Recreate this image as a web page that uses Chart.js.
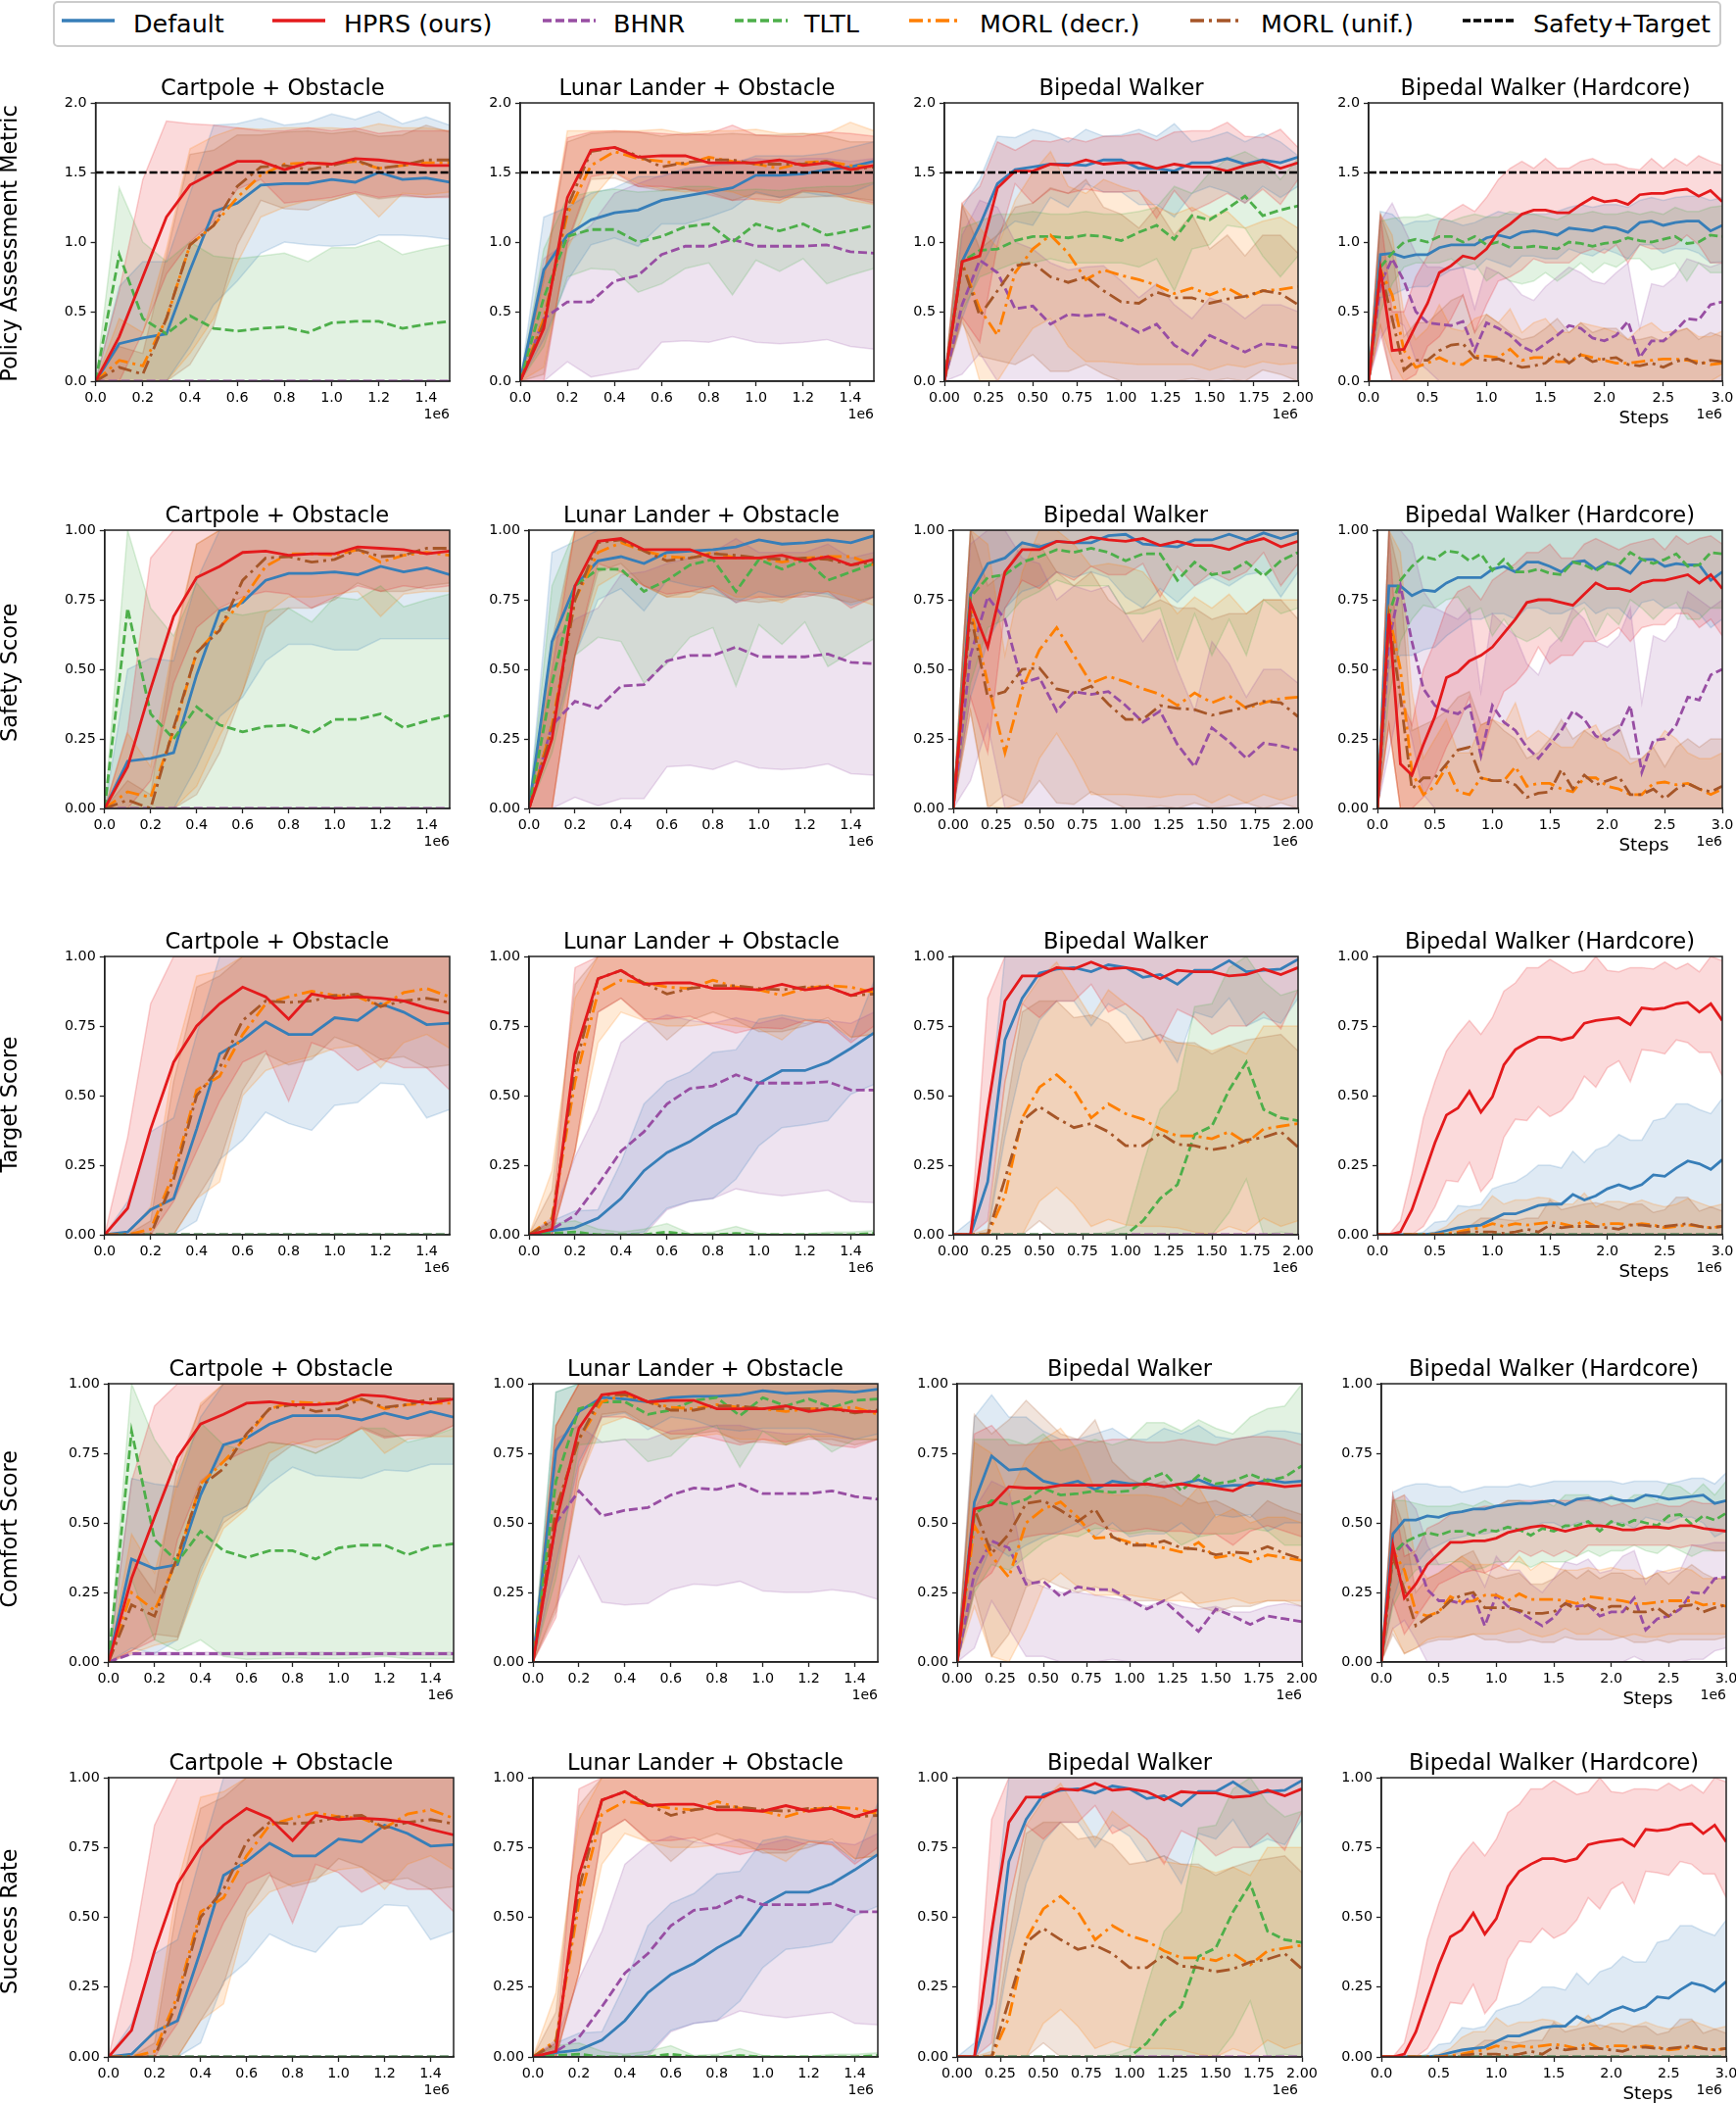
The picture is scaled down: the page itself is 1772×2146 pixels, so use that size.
<!doctype html>
<html lang="en">

<head>
    <meta charset="utf-8">
    <title>Policy metrics</title>
    <style>
        * {
            margin: 0;
            padding: 0;
            font-family: "DejaVu Sans", sans-serif;
        }

        body {
            width: 1772px;
            height: 2146px;
            overflow: hidden;
            background: white;
            position: relative;
        }

        canvas {
            position: absolute;
        }

        .legendBox {
            position: absolute;
            left: 54px;
            top: 1px;
            width: 1699px;
            height: 43px;
            border: solid 2px #ccc;
            border-radius: 5px;
            background: white;
        }

        .legendText {
            position: absolute;
            top: 3px;
            font-size: 25.4px;
            line-height: 42px;
            white-space: nowrap;
            color: #000;
        }

        svg {
            position: absolute;
            top: 18px;
        }
    </style>
</head>

<body>
    <div class="legendBox"></div>
    <script src="https://cdn.jsdelivr.net/npm/chart.js"></script>
    <script>
        // x positions (steps / 1e6 used only in tick labels)
        var stepsCart = [0, 1e5, 2e5, 3e5, 4e5, 5e5, 6e5, 7e5, 8e5, 9e5, 10e5, 11e5, 12e5, 13e5, 14e5, 15e5]
        var stepsLunar = stepsCart
        var stepsWalk = [0, 1e5, 2e5, 3e5, 4e5, 5e5, 6e5, 7e5, 8e5, 9e5, 10e5, 11e5, 12e5, 13e5, 14e5, 15e5, 16e5, 17e5, 18e5, 19e5, 20e5]
        var stepsHard = [0, 1e5, 2e5, 3e5, 4e5, 5e5, 6e5, 7e5, 8e5, 9e5, 10e5, 11e5, 12e5, 13e5, 14e5, 15e5, 16e5, 17e5, 18e5, 19e5, 20e5, 21e5, 22e5, 23e5, 24e5, 25e5, 26e5, 27e5, 28e5, 29e5, 30e5]

        // tick values
        var xTicksCart = [0, 2e5, 4e5, 6e5, 8e5, 10e5, 12e5, 14e5]
        var xTicksLunar = xTicksCart
        var xTicksWalk = [0, 2.5e5, 5e5, 7.5e5, 10e5, 12.5e5, 15e5, 17.5e5, 20e5]
        var xTicksHard = [0, 5e5, 10e5, 15e5, 20e5, 25e5, 30e5]
        var yTicksPam = [0, 0.5, 1, 1.5, 2]
        var yTicksScore = [0, 0.25, 0.5, 0.75, 1]

        var zero16 = [0, 0, 0, 0, 0, 0, 0, 0, 0, 0, 0, 0, 0, 0, 0, 0]
        var zero21 = [0, 0, 0, 0, 0, 0, 0, 0, 0, 0, 0, 0, 0, 0, 0, 0, 0, 0, 0, 0, 0]
        var zero31 = [0, 0, 0, 0, 0, 0, 0, 0, 0, 0, 0, 0, 0, 0, 0, 0, 0, 0, 0, 0, 0, 0, 0, 0, 0, 0, 0, 0, 0, 0, 0]

        // Policy Assessment Metric
        var pamCartDef = [0,.27,.31,.34,.80,1.22,1.28,1.41,1.42,1.42,1.45,1.43,1.50,1.45,1.46,1.43]
        var pamCartDefLo = [0,0,0,0,.25,.55,.72,.92,1.0,.98,.97,.98,1.05,1.05,1.04,1.02]
        var pamCartDefHi = [0,.68,.86,.86,1.35,1.84,1.85,1.89,1.84,1.86,1.92,1.88,1.94,1.85,1.90,1.84]
        var pamCartHprs = [0,.32,.75,1.18,1.41,1.50,1.58,1.58,1.52,1.57,1.56,1.60,1.59,1.57,1.55,1.55]
        var pamCartHprsLo = [0,0,.35,.77,1.0,1.15,1.38,1.45,1.28,1.30,1.32,1.36,1.32,1.34,1.32,1.32]
        var pamCartHprsHi = [0,.65,1.45,1.87,1.85,1.84,1.82,1.80,1.80,1.82,1.80,1.82,1.78,1.80,1.80,1.80]
        var pamCartBhnr = zero16
        var pamCartBhnrLo = zero16
        var pamCartBhnrHi = zero16
        var pamCartTltl = [0,.91,.45,.34,.47,.38,.36,.38,.39,.35,.42,.43,.43,.38,.41,.43]
        var pamCartTltlLo = zero16
        var pamCartTltlHi = [0,1.39,1.0,.86,1.0,.90,.88,.90,.92,.86,.96,.96,1.01,.91,.95,.98]
        var pamCartDecr = [0,.15,.11,.45,.98,1.12,1.32,1.48,1.56,1.57,1.56,1.58,1.53,1.55,1.57,1.57]
        var pamCartDecrLo = [0,0,0,0,.2,.45,.85,1.18,1.25,1.3,1.3,1.35,1.18,1.35,1.34,1.36]
        var pamCartDecrHi = [0,.45,.35,.95,1.67,1.76,1.82,1.81,1.82,1.82,1.82,1.81,1.85,1.82,1.82,1.80]
        var pamCartUnif = [0,.1,.05,.45,.98,1.12,1.4,1.54,1.55,1.52,1.55,1.59,1.53,1.55,1.59,1.59]
        var pamCartUnifLo = [0,0,0,0,.12,.40,.98,1.30,1.24,1.23,1.3,1.35,1.31,1.33,1.32,1.33]
        var pamCartUnifHi = [0,.25,.2,.9,1.63,1.66,1.77,1.77,1.79,1.80,1.78,1.80,1.76,1.77,1.84,1.79]

        var pamLunarDef = [0,.80,1.05,1.16,1.21,1.23,1.30,1.33,1.36,1.39,1.48,1.48,1.49,1.52,1.54,1.58]
        var pamLunarDefLo = [0,.30,.72,.98,1.03,.97,1.13,1.13,1.18,1.24,1.36,1.32,1.36,1.33,1.35,1.42]
        var pamLunarDefHi = [0,1.18,1.25,1.35,1.39,1.47,1.47,1.53,1.55,1.56,1.62,1.62,1.62,1.64,1.68,1.72]
        var pamLunarHprs = [0,.38,1.32,1.66,1.68,1.61,1.62,1.62,1.57,1.57,1.57,1.59,1.55,1.57,1.52,1.55]
        var pamLunarHprsLo = [0,0,1.0,1.47,1.5,1.40,1.40,1.38,1.34,1.30,1.31,1.30,1.37,1.36,1.32,1.28]
        var pamLunarHprsHi = [0,.76,1.75,1.79,1.80,1.79,1.78,1.77,1.78,1.84,1.77,1.76,1.76,1.79,1.78,1.76]
        var pamLunarBhnr = [0,.45,.57,.57,.72,.76,.91,.97,.97,1.02,.97,.97,.97,.98,.93,.92]
        var pamLunarBhnrLo = [0,0,.14,.03,.06,.09,.28,.29,.28,.32,.28,.27,.28,.30,.25,.23]
        var pamLunarBhnrHi = [0,.88,1.0,1.12,1.35,1.42,1.48,1.52,1.55,1.58,1.6,1.58,1.6,1.6,1.58,1.6]
        var pamLunarTltl = [0,.60,1.04,1.09,1.09,1.0,1.04,1.11,1.13,1.0,1.13,1.08,1.13,1.05,1.08,1.12]
        var pamLunarTltlLo = [0,.25,.75,.81,.80,.64,.70,.81,.85,.62,.87,.79,.88,.70,.76,.81]
        var pamLunarTltlHi = [0,.95,1.32,1.36,1.38,1.36,1.37,1.40,1.40,1.37,1.38,1.37,1.39,1.40,1.40,1.43]
        var pamLunarDecr = [0,.45,1.2,1.55,1.65,1.6,1.58,1.56,1.61,1.58,1.56,1.53,1.57,1.58,1.55,1.54]
        var pamLunarDecrLo = [0,.1,.95,1.3,1.5,1.42,1.38,1.36,1.38,1.36,1.3,1.28,1.36,1.36,1.30,1.27]
        var pamLunarDecrHi = [0,.75,1.8,1.8,1.8,1.8,1.81,1.78,1.8,1.8,1.81,1.78,1.78,1.78,1.86,1.8]
        var pamLunarUnif = [0,.42,1.25,1.65,1.68,1.62,1.54,1.57,1.59,1.59,1.56,1.56,1.56,1.58,1.52,1.54]
        var pamLunarUnifLo = [0,.05,.98,1.45,1.46,1.40,1.37,1.38,1.36,1.30,1.35,1.32,1.32,1.33,1.32,1.30]
        var pamLunarUnifHi = [0,.72,1.72,1.78,1.79,1.79,1.76,1.78,1.77,1.78,1.77,1.77,1.78,1.76,1.72,1.72]

        var pamWalkDef = [0,.86,1.12,1.42,1.52,1.54,1.56,1.56,1.55,1.59,1.59,1.53,1.53,1.51,1.57,1.57,1.60,1.56,1.59,1.57,1.61]
        var pamWalkDefLo = [0,.45,.8,1.05,1.15,1.12,1.32,1.25,1.42,1.36,1.36,1.27,1.27,1.18,1.35,1.4,1.36,1.28,1.4,1.32,1.4]
        var pamWalkDefHi = [0,1.25,1.45,1.76,1.75,1.81,1.78,1.72,1.81,1.76,1.77,1.81,1.76,1.85,1.72,1.75,1.79,1.72,1.78,1.72,1.62]
        var pamWalkHprs = [0,.86,.90,1.39,1.51,1.51,1.56,1.55,1.59,1.56,1.57,1.57,1.53,1.56,1.54,1.54,1.51,1.55,1.58,1.53,1.57]
        var pamWalkHprsLo = [0,.46,.28,.98,1.42,1.28,1.38,1.35,1.38,1.36,1.36,1.37,1.17,1.37,1.22,1.28,1.35,1.28,1.38,1.27,1.45]
        var pamWalkHprsHi = [0,1.28,1.4,1.72,1.66,1.73,1.72,1.75,1.72,1.76,1.76,1.78,1.73,1.79,1.8,1.8,1.86,1.76,1.75,1.81,1.68]
        var pamWalkBhnr = [0,.55,.87,.78,.52,.54,.41,.48,.47,.48,.42,.35,.41,.26,.18,.33,.27,.21,.27,.26,.24]
        var pamWalkBhnrLo = [0,.05,.2,0,0,0,0,0,0,0,0,0,0,0,0,0,0,0,0,0,0]
        var pamWalkBhnrHi = [0,1.05,1.3,1.25,1.0,.95,.85,.8,.82,.83,.72,.6,.7,.55,.45,.6,.55,.45,.55,.55,.5]
        var pamWalkTltl = [0,.86,.94,.95,1.01,1.04,1.04,1.03,1.05,1.04,1.01,1.07,1.12,1.02,1.19,1.16,1.24,1.33,1.19,1.23,1.26]
        var pamWalkTltlLo = [0,.5,.75,.8,.85,.85,.88,.85,.85,.85,.85,.82,.88,.65,.95,.98,1.12,1.1,.9,.75,.9]
        var pamWalkTltlHi = [0,1.1,1.15,1.2,1.2,1.22,1.2,1.2,1.22,1.2,1.2,1.22,1.25,1.4,1.35,1.5,1.6,1.65,1.58,1.45,1.6]
        var pamWalkDecr = [0,.85,.52,.33,.78,.95,1.05,.92,.73,.80,.76,.73,.69,.63,.67,.62,.67,.60,.65,.66,.68]
        var pamWalkDecrLo = [0,.45,0,0,.2,.38,.45,.25,.14,.14,.13,.12,.12,.12,.12,.08,.12,.10,.14,.12,.13]
        var pamWalkDecrHi = [0,1.27,1.1,.96,1.3,1.5,1.65,1.4,1.35,1.45,1.4,1.36,1.25,1.2,1.25,1.18,1.22,1.1,1.15,1.18,1.1]
        var pamWalkUnif = [0,.85,.47,.65,.83,.85,.75,.71,.75,.65,.57,.56,.64,.60,.60,.56,.59,.61,.65,.63,.55]
        var pamWalkUnifLo = [0,.42,.18,.15,.12,.19,.07,.07,.12,.05,0,0,0,0,.02,0,.02,0,.08,.05,0]
        var pamWalkUnifHi = [0,1.27,.95,1.05,1.25,1.28,1.39,1.35,1.45,1.25,1.2,1.1,1.25,1.05,1.2,.95,1.05,.9,1.05,1.05,.92]

        var pamHardDef = [0,.91,.92,.89,.91,.91,.96,.98,.98,.98,1.03,1.05,1.03,1.07,1.08,1.07,1.05,1.10,1.09,1.08,1.11,1.10,1.07,1.14,1.15,1.12,1.14,1.15,1.15,1.08,1.12]
        var pamHardDefLo = [0,.6,.62,.66,.68,.68,.75,.8,.82,.80,.88,.85,.82,.9,.9,.88,.88,.95,.92,.9,.95,.92,.88,.98,.98,.92,.95,.95,.92,.85,.86]
        var pamHardDefHi = [0,1.22,1.2,1.12,1.15,1.15,1.17,1.15,1.12,1.14,1.18,1.22,1.2,1.2,1.2,1.2,1.22,1.25,1.27,1.25,1.27,1.27,1.25,1.3,1.32,1.3,1.32,1.33,1.33,1.3,1.32]
        var pamHardHprs = [0,.80,.22,.23,.40,.56,.78,.83,.90,.88,.95,1.07,1.13,1.20,1.23,1.23,1.21,1.21,1.27,1.32,1.29,1.30,1.27,1.34,1.35,1.35,1.37,1.38,1.33,1.37,1.29]
        var pamHardHprsLo = [0,.35,0,0,.05,.25,.32,.45,.62,.35,.55,.72,.75,.8,.88,.85,.85,.85,.92,.95,.92,.98,.85,.98,.95,.95,.98,1.05,.98,.85,.85]
        var pamHardHprsHi = [0,1.2,.5,.5,.75,.9,1.15,1.22,1.27,1.22,1.32,1.45,1.53,1.58,1.53,1.6,1.53,1.53,1.58,1.6,1.56,1.56,1.53,1.52,1.6,1.53,1.6,1.55,1.62,1.58,1.55]
        var pamHardBhnr = [0,.70,.88,.72,.50,.42,.41,.40,.43,.22,.42,.38,.33,.25,.21,.27,.33,.40,.38,.31,.29,.33,.43,.17,.29,.29,.36,.45,.44,.55,.57]
        var pamHardBhnrLo = [0,.3,.45,.4,.15,.08,0,0,0,0,0,0,0,0,0,0,0,0,0,0,0,0,0,0,0,0,0,0,0,0,0]
        var pamHardBhnrHi = [0,1.15,1.28,1.1,.92,.82,.82,.8,.82,.52,.82,.78,.72,.62,.58,.68,.75,.82,.78,.72,.7,.78,.85,.38,.7,.68,.75,.88,.85,.82,.85]
        var pamHardTltl = [0,.82,.92,1.0,1.02,1.0,1.04,1.04,1.0,1.04,.98,1.0,.96,.96,.97,.96,.95,1.0,.99,.97,.99,1.0,1.03,1.01,1.0,1.02,1.04,.99,1.0,1.05,1.04]
        var pamHardTltlLo = [0,.5,.7,.82,.85,.85,.85,.88,.82,.85,.72,.78,.72,.7,.72,.78,.72,.78,.85,.78,.85,.82,.88,.88,.8,.82,.85,.72,.85,.78,.78]
        var pamHardTltlHi = [0,1.15,1.17,1.18,1.18,1.2,1.17,1.15,1.18,1.2,1.18,1.18,1.22,1.2,1.2,1.18,1.16,1.2,1.2,1.22,1.2,1.2,1.22,1.2,1.22,1.2,1.25,1.22,1.22,1.25,1.26]
        var pamHardDecr = [0,.80,.62,.22,.10,.13,.17,.13,.12,.18,.18,.17,.23,.15,.17,.17,.14,.14,.19,.17,.15,.13,.13,.14,.15,.16,.16,.15,.14,.12,.13]
        var pamHardDecrLo = [0,.4,.15,0,0,0,0,0,0,0,0,0,0,0,0,0,0,0,0,0,0,0,0,0,0,0,0,0,0,0,.05]
        var pamHardDecrHi = [0,1.2,1.05,.48,.3,.38,.55,.38,.36,.45,.48,.42,.52,.35,.42,.45,.35,.35,.42,.4,.38,.35,.3,.38,.42,.35,.36,.38,.32,.32,.36]
        var pamHardUnif = [0,.80,.45,.08,.15,.15,.22,.26,.27,.17,.15,.16,.13,.10,.11,.13,.20,.13,.19,.14,.16,.17,.12,.11,.13,.10,.14,.16,.12,.15,.14]
        var pamHardUnifLo = [0,.4,0,0,0,0,0,0,0,0,0,0,0,0,0,0,0,0,0,0,0,0,0,0,0,0,0,0,0,0,0]
        var pamHardUnifHi = [0,1.2,.95,.32,.42,.42,.5,.58,.62,.35,.48,.42,.35,.3,.32,.38,.45,.35,.42,.35,.38,.38,.3,.3,.32,.28,.35,.38,.3,.35,.32]

        // Safety Score
        var safCartDef = [0,.17,.18,.20,.48,.71,.74,.82,.845,.845,.85,.84,.87,.85,.865,.84]
        var safCartDefLo = [0,0,0,0,.15,.33,.40,.53,.59,.59,.57,.57,.61,.61,.61,.61]
        var safCartDefHi = [0,.5,.54,.53,.82,1,1,1,1,1,1,1,1,1,1,1]
        var safCartHprs = [0,.15,.43,.69,.83,.87,.92,.925,.91,.915,.915,.94,.935,.93,.915,.925]
        var safCartHprsLo = [0,0,.1,.45,.65,.72,.76,.78,.77,.72,.76,.80,.78,.8,.79,.8]
        var safCartHprsHi = [0,.28,.9,1,1,1,1,1,1,1,1,1,1,1,1,1]
        var safCartBhnr = zero16
        var safCartBhnrLo = zero16
        var safCartBhnrHi = zero16
        var safCartTltl = [0,.72,.34,.25,.365,.30,.275,.295,.30,.27,.32,.32,.34,.29,.315,.335]
        var safCartTltlLo = zero16
        var safCartTltlHi = [0,1,.72,.62,.81,.71,.695,.71,.72,.67,.76,.75,.80,.725,.75,.77]
        var safCartDecr = [0,.06,.04,.28,.56,.65,.75,.87,.915,.915,.91,.93,.885,.91,.92,.91]
        var safCartDecrLo = [0,0,0,0,.08,.26,.42,.70,.76,.76,.77,.78,.69,.77,.78,.78]
        var safCartDecrHi = [0,.27,.15,.6,.95,1,1,1,1,1,1,1,1,1,1,1]
        var safCartUnif = [0,.03,0,.29,.56,.64,.82,.90,.905,.885,.895,.93,.905,.91,.935,.935]
        var safCartUnifLo = [0,0,0,0,.05,.2,.42,.65,.72,.72,.75,.81,.78,.78,.80,.81]
        var safCartUnifHi = [0,.1,.05,.58,.95,1,1,1,1,1,1,1,1,1,1,1]

        var safLunarDef = [0,.60,.80,.89,.905,.88,.92,.925,.93,.94,.965,.95,.955,.965,.955,.98]
        var safLunarDefLo = [0,.25,.55,.75,.79,.71,.82,.80,.79,.74,.78,.76,.78,.77,.73,.76]
        var safLunarDefHi = [0,.92,.96,1,1,1,1,1,1,1,1,1,1,1,1,1]
        var safLunarHprs = [0,.25,.8,.96,.97,.93,.93,.93,.90,.90,.90,.91,.89,.905,.875,.895]
        var safLunarHprsLo = [0,0,.55,.88,.85,.80,.77,.78,.80,.74,.76,.76,.76,.78,.72,.76]
        var safLunarHprsHi = [0,.5,1,1,1,1,1,1,1,1,1,1,1,1,1,1]
        var safLunarBhnr = [0,.30,.385,.36,.44,.445,.53,.55,.55,.58,.545,.545,.545,.555,.525,.52]
        var safLunarBhnrLo = [0,0,.04,.01,.035,.035,.15,.155,.14,.17,.145,.14,.145,.16,.125,.12]
        var safLunarBhnrHi = [0,.6,.68,.72,.84,.85,.88,.9,.92,.97,.92,.92,.92,.95,.9,.92]
        var safLunarTltl = [0,.45,.80,.86,.86,.78,.82,.875,.895,.78,.895,.86,.895,.82,.85,.88]
        var safLunarTltlLo = [0,.2,.55,.615,.60,.45,.52,.615,.65,.44,.66,.59,.67,.51,.56,.61]
        var safLunarTltlHi = [0,.8,1,1,1,1,1,1,1,1,1,1,1,1,1,1]
        var safLunarDecr = [0,.3,.75,.92,.955,.925,.905,.90,.92,.90,.90,.885,.90,.905,.905,.875]
        var safLunarDecrLo = [0,0,.55,.80,.85,.80,.76,.76,.80,.76,.76,.74,.78,.78,.76,.73]
        var safLunarDecrHi = [0,.55,1,1,1,1,1,1,1,1,1,1,1,1,1,1]
        var safLunarUnif = [0,.28,.75,.955,.965,.925,.89,.90,.915,.91,.90,.895,.90,.895,.875,.885]
        var safLunarUnifLo = [0,0,.55,.85,.88,.80,.76,.78,.77,.75,.74,.75,.77,.76,.74,.76]
        var safLunarUnifHi = [0,.6,1,1,1,1,1,1,1,1,1,1,1,1,1,1]

        var safWalkDef = [0,.77,.88,.90,.955,.94,.96,.955,.955,.98,.985,.95,.945,.94,.965,.965,.985,.965,.99,.97,.99]
        var safWalkDefLo = [0,.4,.6,.72,.78,.8,.85,.83,.85,.83,.76,.72,.79,.74,.8,.83,.80,.84,.85,.76,.85]
        var safWalkDefHi = [0,1,1,1,1,1,1,1,1,1,1,1,1,1,1,1,1,1,1,1,1]
        var safWalkHprs = [0,.74,.58,.85,.93,.93,.96,.955,.975,.965,.96,.97,.945,.96,.945,.945,.93,.955,.97,.94,.96]
        var safWalkHprsLo = [0,.4,.2,.72,.82,.79,.85,.82,.87,.84,.84,.88,.76,.87,.80,.85,.82,.85,.92,.80,.88]
        var safWalkHprsHi = [0,1,1,1,1,1,1,1,1,1,1,1,1,1,1,1,1,1,1,1,1]
        var safWalkBhnr = [0,.55,.76,.68,.45,.47,.35,.42,.41,.42,.37,.31,.35,.23,.15,.29,.24,.18,.235,.225,.21]
        var safWalkBhnrLo = [0,.1,.3,0,0,0,0,0,0,0,0,0,0,0,0,0,0,0,0,0,0]
        var safWalkBhnrHi = [0,.95,1,1,.9,.88,.75,.8,.78,.8,.7,.6,.68,.5,.35,.6,.52,.4,.5,.5,.45]
        var safWalkTltl = [0,.76,.83,.84,.885,.905,.93,.92,.935,.92,.89,.915,.915,.82,.885,.84,.85,.885,.835,.89,.92]
        var safWalkTltlLo = [0,.45,.65,.68,.75,.78,.82,.80,.80,.80,.70,.70,.72,.53,.70,.55,.68,.55,.75,.70,.72]
        var safWalkTltlHi = [0,1,1,1,1,1,1,1,1,1,1,1,1,1,1,1,1,1,1,1,1]
        var safWalkDecr = [0,.72,.45,.20,.43,.57,.65,.55,.45,.475,.455,.43,.41,.37,.415,.38,.405,.36,.38,.395,.40]
        var safWalkDecrLo = [0,.35,.01,0,.02,.18,.27,.17,.05,.05,.05,.045,.04,.05,.05,.02,.05,.02,.05,.03,.05]
        var safWalkDecrHi = [0,1,.95,.55,.85,1,1,.95,.87,.88,.87,.85,.78,.7,.76,.72,.77,.7,.75,.75,.75]
        var safWalkUnif = [0,.70,.40,.42,.50,.505,.43,.415,.44,.375,.32,.32,.37,.36,.355,.335,.35,.365,.385,.38,.33]
        var safWalkUnifLo = [0,.35,0,.05,.02,.1,.02,.015,.06,.03,0,0,.01,0,.02,0,.01,.02,0,.02,0]
        var safWalkUnifHi = [0,1,.8,.85,.95,.95,.85,.8,.85,.75,.70,.72,.75,.72,.72,.68,.7,.7,.75,.75,.68]

        var safHardDef = [0,.80,.80,.765,.785,.78,.81,.83,.83,.83,.86,.87,.85,.885,.885,.87,.85,.885,.89,.86,.885,.87,.845,.895,.895,.87,.88,.875,.875,.82,.85]
        var safHardDefLo = [0,.5,.55,.55,.57,.58,.62,.65,.68,.68,.7,.7,.68,.72,.72,.7,.7,.72,.74,.7,.72,.72,.68,.74,.75,.72,.72,.72,.7,.65,.68]
        var safHardDefHi = [0,1,1,1,1,1,1,1,1,1,1,1,1,1,1,1,1,1,1,1,1,1,1,1,1,1,1,1,1,1,1]
        var safHardHprs = [0,.70,.16,.12,.23,.33,.47,.49,.53,.55,.58,.63,.68,.74,.75,.75,.74,.73,.77,.81,.79,.79,.78,.81,.82,.82,.83,.84,.81,.84,.79]
        var safHardHprsLo = [0,.3,0,0,.04,.12,.22,.3,.4,.18,.32,.42,.45,.5,.58,.52,.55,.55,.6,.6,.62,.65,.6,.65,.66,.66,.7,.7,.65,.68,.62]
        var safHardHprsHi = [0,1,.4,.3,.5,.6,.72,.78,.8,.75,.82,.85,.88,.92,.92,.95,.9,.9,.95,.97,.95,.93,.95,.96,.97,.93,.98,.95,.97,.98,.95]
        var safHardBhnr = [0,.6,.80,.6,.43,.37,.35,.34,.37,.19,.37,.31,.28,.22,.18,.23,.28,.35,.32,.26,.245,.28,.37,.13,.245,.25,.30,.40,.39,.48,.50]
        var safHardBhnrLo = [0,.2,.4,.25,.05,0,0,0,0,0,0,0,0,0,0,0,0,0,0,0,0,0,0,0,0,0,0,0,0,0,0]
        var safHardBhnrHi = [0,1,1,.95,.78,.72,.7,.68,.72,.42,.7,.66,.62,.52,.48,.58,.62,.72,.68,.6,.58,.62,.72,.38,.62,.6,.65,.78,.75,.72,.75]
        var safHardTltl = [0,.7,.82,.87,.905,.895,.925,.92,.89,.915,.855,.895,.85,.85,.86,.845,.84,.885,.875,.855,.88,.875,.92,.895,.88,.895,.915,.87,.875,.92,.915]
        var safHardTltlLo = [0,.4,.6,.68,.73,.72,.75,.76,.7,.72,.62,.68,.62,.6,.62,.65,.6,.68,.72,.62,.7,.66,.75,.72,.68,.72,.74,.68,.68,.72,.72]
        var safHardTltlHi = safHardDefHi
        var safHardDecr = [0,.70,.5,.13,.05,.08,.15,.06,.05,.11,.10,.10,.15,.08,.09,.09,.07,.06,.11,.11,.08,.07,.05,.05,.09,.095,.085,.09,.07,.05,.07]
        var safHardDecrLo = [0,.3,0,0,0,0,0,0,0,0,0,0,0,0,0,0,0,0,0,0,0,0,0,0,0,0,0,0,0,0,0]
        var safHardDecrHi = [0,1,.92,.42,.18,.25,.32,.2,.2,.3,.32,.3,.38,.25,.28,.25,.22,.22,.28,.3,.22,.2,.16,.18,.22,.28,.25,.2,.18,.18,.2]
        var safHardUnif = [0,.68,.4,.07,.11,.11,.16,.21,.22,.11,.10,.10,.085,.04,.055,.06,.14,.07,.12,.085,.10,.115,.05,.05,.07,.035,.07,.09,.07,.06,.08]
        var safHardUnifLo = safHardDecrLo
        var safHardUnifHi = [0,1,.82,.28,.3,.32,.35,.4,.42,.3,.32,.28,.25,.18,.2,.25,.32,.25,.28,.25,.28,.3,.18,.18,.22,.15,.22,.25,.22,.25,.25]

        // Target Score (Success Rate reads the same in the picture)
        var tarCartDef = [0,.01,.09,.13,.38,.65,.70,.765,.72,.72,.78,.77,.83,.80,.755,.76]
        var tarCartDefLo = [0,0,0,0,.05,.27,.34,.44,.40,.375,.465,.475,.545,.54,.42,.45]
        var tarCartDefHi = [0,.12,.37,.42,.72,1,1,1,1,1,1,1,1,1,1,1]
        var tarCartHprs = [0,.095,.38,.62,.75,.83,.89,.855,.775,.865,.85,.855,.85,.84,.815,.795]
        var tarCartHprsLo = [0,0,0,.12,.3,.48,.62,.66,.48,.69,.66,.59,.63,.60,.60,.52]
        var tarCartHprsHi = [0,.35,.83,1,1,1,1,1,1,1,1,1,1,1,1,1]
        var tarCartBhnr = zero16
        var tarCartBhnrLo = zero16
        var tarCartBhnrHi = zero16
        var tarCartTltl = zero16
        var tarCartTltlLo = zero16
        var tarCartTltlHi = zero16
        var tarCartDecr = [0,0,.02,.22,.52,.57,.72,.83,.855,.875,.86,.855,.82,.87,.885,.855]
        var tarCartDecrLo = [0,0,0,0,.13,.19,.5,.59,.62,.64,.67,.68,.60,.69,.72,.67]
        var tarCartDecrHi = [0,0,.1,.62,.93,.95,1,1,1,1,1,1,1,1,1,1]
        var tarCartUnif = [0,0,0,.2,.5,.6,.77,.84,.835,.84,.86,.865,.82,.84,.85,.835]
        var tarCartUnifLo = [0,0,0,0,.13,.26,.52,.65,.61,.63,.71,.68,.63,.64,.60,.61]
        var tarCartUnifHi = [0,0,.05,.55,.89,.93,1,1,1,1,1,1,1,1,1,1]

        var tarLunarDef = [0,.015,.025,.06,.13,.23,.295,.335,.39,.435,.545,.59,.59,.62,.67,.725]
        var tarLunarDefLo = [0,0,0,0,0,.01,.095,.12,.13,.20,.32,.385,.395,.41,.505,.54]
        var tarLunarDefHi = [0,.05,.085,.09,.26,.47,.55,.585,.655,.665,.775,.79,.775,.77,.70,.91]
        var tarLunarHprs = [0,.02,.65,.92,.95,.90,.905,.905,.885,.885,.88,.90,.88,.89,.86,.885]
        var tarLunarHprsLo = [0,0,.3,.8,.85,.775,.775,.785,.75,.725,.745,.74,.77,.76,.69,.75]
        var tarLunarHprsHi = [0,.05,.96,1,1,1,1,1,1,1,1,1,1,1,1,1]
        var tarLunarBhnr = [0,.02,.07,.18,.30,.37,.47,.525,.535,.575,.545,.545,.545,.55,.52,.52]
        var tarLunarBhnrLo = [0,0,0,0,0,0,.09,.12,.13,.165,.15,.14,.15,.16,.12,.115]
        var tarLunarBhnrHi = [0,.06,.28,.45,.69,.76,.79,.77,.76,.78,.76,.78,.76,.77,.76,.80]
        var tarLunarTltl = [0,.005,.01,0,0,0,.01,0,0,.005,0,0,0,0,0,.005]
        var tarLunarTltlLo = zero16
        var tarLunarTltlHi = [0,.04,.05,.02,.01,.02,.04,.005,.01,.03,.005,.002,.002,.01,.01,.015]
        var tarLunarDecr = [0,.06,.55,.87,.915,.905,.89,.885,.915,.89,.88,.86,.885,.895,.89,.87]
        var tarLunarDecrLo = [0,0,.3,.69,.80,.77,.75,.75,.76,.75,.74,.70,.77,.76,.71,.72]
        var tarLunarDecrHi = [0,.23,.85,1,1,1,1,1,1,1,1,1,1,1,1,1]
        var tarLunarUnif = [0,.05,.6,.92,.95,.905,.865,.885,.895,.895,.885,.88,.89,.89,.86,.865]
        var tarLunarUnifLo = [0,0,.3,.8,.85,.78,.70,.77,.80,.77,.73,.73,.75,.78,.71,.72]
        var tarLunarUnifHi = [0,.16,.9,1,1,1,1,1,1,1,1,1,1,1,1,1]

        var tarWalkDef = [0,0,.19,.70,.85,.94,.955,.96,.945,.97,.96,.925,.935,.90,.95,.95,.985,.945,.95,.955,.99]
        var tarWalkDefLo = [0,0,0,.35,.62,.77,.84,.84,.75,.83,.79,.7,.72,.62,.8,.78,.85,.75,.78,.76,.85]
        var tarWalkDefHi = [0,.05,.4,1,1,1,1,1,1,1,1,1,1,1,1,1,1,1,1,1,1]
        var tarWalkHprs = [0,0,.45,.84,.93,.93,.96,.955,.98,.955,.96,.95,.92,.95,.945,.945,.93,.935,.955,.935,.96]
        var tarWalkHprsLo = [0,0,.05,.55,.83,.78,.84,.84,.9,.8,.83,.78,.69,.81,.78,.72,.75,.75,.8,.74,.88]
        var tarWalkHprsHi = [0,0,.85,1,1,1,1,1,1,1,1,1,1,1,1,1,1,1,1,1,1]
        var tarWalkBhnr = zero21
        var tarWalkBhnrLo = zero21
        var tarWalkBhnrHi = zero21
        var tarWalkTltl = [0,0,0,0,0,0,0,0,0,0,0,.05,.13,.18,.36,.39,.52,.62,.45,.42,.41]
        var tarWalkTltlLo = [0,0,0,0,0,0,0,0,0,0,0,0,0,0,0,0,.08,.2,0,.01,0]
        var tarWalkTltlHi = [0,0,0,0,0,0,0,0,0,.01,.03,.25,.45,.52,.82,.83,.96,1,.91,.86,.88]
        var tarWalkDecr = [0,0,0,.14,.42,.53,.575,.52,.42,.47,.435,.415,.38,.355,.355,.345,.37,.33,.38,.39,.40]
        var tarWalkDecrLo = [0,0,0,0,0,.12,.17,.11,.03,.055,.035,.03,.03,.025,.01,0,.03,.01,.06,.03,.05]
        var tarWalkDecrHi = [0,0,.02,.55,.83,.92,.98,.88,.78,.88,.83,.78,.7,.69,.68,.66,.68,.65,.75,.75,.75]
        var tarWalkUnif = [0,0,0,.2,.41,.46,.42,.385,.40,.37,.32,.32,.365,.325,.32,.305,.315,.34,.35,.37,.315]
        var tarWalkUnifLo = [0,0,0,0,0,.05,0,0,0,0,0,0,0,0,0,0,0,0,0,0,0]
        var tarWalkUnifHi = [0,0,.01,.42,.80,.84,.84,.78,.79,.76,.69,.70,.72,.69,.69,.65,.68,.7,.71,.72,.66]

        var tarHardDef = [0,0,0,0,0,.005,.015,.025,.03,.035,.055,.075,.075,.09,.105,.11,.11,.145,.125,.14,.165,.18,.165,.18,.215,.21,.24,.265,.255,.235,.27]
        var tarHardDefLo = zero31
        var tarHardDefHi = [0,0,0,0,.01,.045,.05,.105,.10,.11,.165,.18,.19,.215,.25,.25,.24,.30,.26,.305,.32,.36,.34,.34,.41,.42,.47,.47,.45,.435,.49]
        var tarHardHprs = [0,0,.01,.09,.21,.33,.43,.455,.515,.44,.495,.61,.665,.69,.71,.71,.70,.71,.76,.77,.775,.78,.755,.815,.81,.815,.83,.835,.80,.83,.77]
        var tarHardHprsLo = [0,0,0,0,.03,.1,.195,.19,.26,.155,.205,.35,.415,.41,.46,.425,.445,.49,.57,.53,.6,.625,.55,.665,.66,.65,.70,.69,.655,.655,.57]
        var tarHardHprsHi = [0,0,.05,.22,.42,.55,.66,.72,.77,.72,.78,.875,.905,.96,.96,.99,.965,.94,.95,1,.95,.945,.96,.96,.955,.98,.955,.975,.945,1,.985]
        var tarHardBhnr = zero31
        var tarHardBhnrLo = zero31
        var tarHardBhnrHi = zero31
        var tarHardTltl = zero31
        var tarHardTltlLo = zero31
        var tarHardTltlHi = zero31
        var tarHardDecr = [0,0,0,0,0,0,.005,.01,.02,.025,.04,.03,.04,.035,.04,.045,.04,.03,.05,.03,.04,.04,.035,.04,.035,.025,.03,.035,.03,.025,.03]
        var tarHardDecrLo = zero31
        var tarHardDecrHi = [0,0,0,0,0,.01,.03,.07,.09,.09,.14,.11,.125,.125,.135,.13,.11,.11,.15,.1,.12,.12,.11,.125,.11,.10,.11,.13,.115,.10,.11]
        var tarHardUnif = [0,0,0,0,0,0,0,.005,.01,.01,.01,.005,.01,.02,.01,.035,.025,.03,.03,.03,.025,.02,.035,.035,.03,.03,.035,.04,.03,.025,.03]
        var tarHardUnifLo = zero31
        var tarHardUnifHi = [0,0,0,0,0,0,.005,.02,.03,.06,.06,.055,.05,.06,.06,.125,.09,.1,.11,.115,.105,.09,.11,.11,.08,.09,.135,.135,.085,.1,.085]

        // Comfort Score
        var comCartDef = [0,.37,.335,.35,.60,.78,.805,.855,.885,.885,.885,.87,.895,.875,.90,.88]
        var comCartDefLo = [0,.05,.03,.08,.32,.52,.56,.64,.70,.67,.665,.66,.69,.685,.71,.71]
        var comCartDefHi = [0,.66,.64,.63,.88,1,1,1,1,1,1,1,1,1,1,1]
        var comCartHprs = [0,.30,.52,.735,.855,.89,.93,.935,.925,.925,.93,.96,.955,.94,.93,.945]
        var comCartHprsLo = [0,.04,.08,.44,.65,.72,.76,.79,.78,.80,.80,.84,.805,.815,.81,.85]
        var comCartHprsHi = [0,.65,.92,1,1,1,1,1,1,1,1,1,1,1,1,1]
        var comCartBhnr = [0,.03,.03,.03,.03,.03,.03,.03,.03,.03,.03,.03,.03,.03,.03,.03]
        var comCartBhnrLo = [0,.025,.025,.025,.025,.025,.025,.025,.025,.025,.025,.025,.025,.025,.025,.025]
        var comCartBhnrHi = [0,.035,.035,.035,.035,.035,.035,.035,.035,.035,.035,.035,.035,.035,.035,.035]
        var comCartTltl = [0,.83,.44,.36,.47,.40,.375,.40,.40,.37,.41,.42,.42,.385,.415,.425]
        var comCartTltlLo = [0,.3,.08,.04,.08,.02,.01,.012,.015,.012,.012,.015,.02,.012,.012,.012]
        var comCartTltlHi = [0,1,.80,.68,.86,.78,.76,.79,.78,.75,.79,.84,.84,.79,.81,.84]
        var comCartDecr = [0,.25,.185,.37,.64,.72,.81,.91,.935,.93,.93,.945,.91,.925,.93,.93]
        var comCartDecrLo = [0,.03,.06,.08,.3,.48,.55,.75,.79,.77,.80,.84,.75,.80,.81,.81]
        var comCartDecrHi = [0,.46,.32,.65,.93,1,1,1,1,1,1,1,1,1,1,1]
        var comCartUnif = [0,.205,.165,.38,.63,.695,.82,.91,.925,.90,.91,.945,.915,.925,.945,.945]
        var comCartUnifLo = [0,.04,.1,.09,.34,.50,.56,.72,.78,.75,.79,.845,.81,.815,.815,.85]
        var comCartUnifHi = [0,.37,.25,.70,.92,1,1,1,1,1,1,1,1,1,1,1]

        var comLunarDef = [0,.76,.90,.95,.945,.935,.95,.955,.955,.96,.975,.965,.97,.975,.97,.98]
        var comLunarDefLo = [0,.35,.72,.88,.895,.835,.88,.87,.84,.83,.84,.84,.84,.82,.80,.82]
        var comLunarDefHi = [0,.97,1,1,1,1,1,1,1,1,1,1,1,1,1,1]
        var comLunarHprs = [0,.50,.84,.96,.97,.935,.94,.94,.91,.91,.91,.92,.90,.91,.90,.90]
        var comLunarHprsLo = [0,.16,.70,.88,.88,.85,.82,.82,.80,.78,.80,.79,.81,.78,.77,.80]
        var comLunarHprsHi = [0,.85,1,1,1,1,1,1,1,1,1,1,1,1,1,1]
        var comLunarBhnr = [0,.50,.615,.525,.545,.555,.60,.625,.62,.64,.605,.605,.605,.615,.595,.585]
        var comLunarBhnrLo = [0,.2,.38,.215,.205,.21,.26,.28,.275,.29,.255,.25,.25,.26,.25,.225]
        var comLunarBhnrHi = [0,.8,.85,.79,.80,.80,.83,.84,.85,.85,.83,.82,.82,.82,.80,.80]
        var comLunarTltl = [0,.65,.91,.935,.935,.89,.905,.94,.95,.885,.95,.92,.945,.915,.94,.945]
        var comLunarTltlLo = [0,.3,.78,.79,.80,.72,.74,.82,.85,.70,.83,.78,.82,.755,.80,.80]
        var comLunarTltlHi = comLunarDefHi
        var comLunarDecr = [0,.55,.80,.935,.96,.935,.915,.91,.925,.915,.91,.90,.91,.91,.915,.89]
        var comLunarDecrLo = [0,.2,.65,.85,.88,.85,.80,.81,.82,.80,.80,.78,.81,.81,.80,.80]
        var comLunarDecrHi = comLunarHprsHi
        var comLunarUnif = [0,.55,.80,.96,.96,.935,.905,.905,.92,.92,.91,.91,.91,.91,.895,.905]
        var comLunarUnifLo = [0,.18,.65,.89,.90,.85,.80,.82,.83,.79,.79,.78,.80,.80,.78,.80]
        var comLunarUnifHi = comLunarHprsHi

        var comWalkDef = [0,.575,.74,.69,.695,.65,.635,.65,.62,.65,.64,.64,.63,.64,.655,.63,.635,.635,.655,.645,.65]
        var comWalkDefLo = [0,.27,.42,.38,.42,.45,.47,.5,.45,.5,.45,.46,.46,.5,.45,.53,.52,.53,.47,.5,.5]
        var comWalkDefHi = [0,.88,.96,.88,.88,.83,.80,.80,.82,.84,.80,.80,.84,.82,.85,.81,.80,.81,.83,.83,.82]
        var comWalkHprs = [0,.55,.565,.63,.625,.625,.635,.635,.635,.635,.635,.64,.63,.64,.63,.625,.615,.645,.64,.63,.635]
        var comWalkHprsLo = [0,.27,.32,.43,.45,.46,.46,.47,.5,.47,.47,.48,.47,.47,.46,.46,.42,.47,.49,.47,.45]
        var comWalkHprsHi = [0,.82,.85,.78,.78,.79,.80,.80,.79,.80,.80,.79,.79,.80,.79,.78,.80,.81,.81,.80,.78]
        var comWalkBhnr = [0,.32,.435,.41,.28,.29,.235,.27,.26,.26,.225,.19,.22,.165,.11,.19,.165,.135,.165,.155,.145]
        var comWalkBhnrLo = [0,.05,.22,.12,.02,.02,0,0,0,.01,0,0,0,0,0,0,0,0,0,0,0]
        var comWalkBhnrHi = [0,.55,.65,.62,.3,.27,.25,.25,.24,.23,.22,.2,.22,.2,.19,.2,.18,.18,.2,.21,.2]
        var comWalkTltl = [0,.53,.58,.565,.585,.625,.60,.605,.615,.61,.615,.655,.68,.615,.67,.64,.65,.675,.65,.665,.705]
        var comWalkTltlLo = [0,.25,.35,.33,.38,.43,.46,.45,.48,.48,.46,.47,.47,.42,.45,.46,.46,.48,.47,.42,.42]
        var comWalkTltlHi = [0,.8,.8,.8,.78,.82,.76,.78,.8,.78,.8,.86,.86,.83,.87,.84,.82,.88,.91,.92,1]
        var comWalkDecr = [0,.49,.38,.305,.50,.55,.575,.52,.445,.45,.43,.42,.41,.395,.43,.375,.385,.36,.385,.375,.365]
        var comWalkDecrLo = [0,.2,.02,0,.12,.27,.32,.27,.24,.24,.24,.23,.22,.22,.21,.22,.23,.21,.22,.22,.22]
        var comWalkDecrHi = [0,.79,.75,.6,.73,.8,.84,.76,.62,.6,.6,.6,.59,.56,.63,.52,.55,.5,.52,.52,.5]
        var comWalkUnif = [0,.55,.39,.46,.57,.58,.545,.505,.55,.45,.42,.42,.435,.41,.405,.385,.395,.39,.415,.39,.37]
        var comWalkUnifLo = [0,.25,.02,.1,.27,.3,.27,.25,.27,.25,.22,.22,.22,.25,.2,.18,.2,.2,.22,.22,.2]
        var comWalkUnifHi = [0,.89,.82,.87,.94,.88,.82,.8,.87,.72,.66,.63,.65,.6,.57,.58,.55,.52,.58,.55,.53]

        var comHardDef = [0,.46,.51,.51,.525,.52,.535,.54,.55,.55,.56,.565,.57,.57,.575,.58,.565,.585,.59,.58,.59,.58,.58,.60,.595,.585,.59,.595,.60,.57,.58]
        var comHardDefLo = [0,.22,.35,.35,.4,.42,.44,.45,.46,.46,.47,.48,.47,.48,.5,.5,.48,.5,.5,.48,.5,.5,.48,.52,.51,.5,.52,.52,.5,.45,.47]
        var comHardDefHi = [0,.61,.63,.64,.64,.63,.63,.61,.62,.63,.63,.63,.64,.63,.64,.65,.65,.65,.65,.65,.65,.64,.65,.65,.65,.64,.65,.66,.66,.64,.68]
        var comHardHprs = [0,.42,.23,.28,.35,.39,.43,.43,.435,.435,.445,.465,.475,.485,.49,.48,.47,.48,.49,.49,.485,.475,.475,.485,.485,.48,.49,.49,.48,.475,.47]
        var comHardHprsLo = [0,.22,.1,.16,.22,.28,.3,.32,.33,.32,.34,.36,.4,.38,.4,.38,.4,.38,.42,.42,.42,.42,.42,.42,.42,.42,.41,.42,.41,.4,.4]
        var comHardHprsHi = [0,.6,.38,.4,.48,.5,.53,.54,.55,.56,.56,.58,.58,.58,.58,.58,.58,.58,.58,.58,.56,.57,.55,.56,.57,.56,.56,.58,.57,.57,.58]
        var comHardBhnr = [0,.38,.43,.38,.26,.22,.22,.21,.24,.13,.24,.20,.18,.155,.13,.16,.21,.20,.205,.165,.18,.18,.23,.115,.155,.165,.19,.25,.245,.30,.305]
        var comHardBhnrLo = [0,.12,.15,.08,0,0,0,0,0,0,0,0,0,0,0,0,0,0,0,0,0,0,.02,0,0,0,0,.01,.01,.04,.05]
        var comHardBhnrHi = [0,.58,.6,.55,.42,.35,.35,.32,.35,.27,.38,.33,.33,.28,.25,.3,.36,.35,.37,.32,.33,.38,.4,.28,.33,.32,.33,.42,.42,.43,.43]
        var comHardTltl = [0,.39,.43,.45,.465,.455,.47,.47,.455,.475,.47,.485,.475,.455,.48,.47,.49,.49,.505,.47,.505,.49,.51,.5,.49,.525,.53,.495,.525,.51,.535]
        var comHardTltlLo = [0,.2,.28,.33,.35,.35,.36,.36,.33,.34,.36,.36,.36,.34,.36,.36,.36,.38,.4,.38,.4,.4,.42,.4,.39,.42,.4,.38,.4,.4,.4]
        var comHardTltlHi = [0,.58,.58,.57,.56,.56,.56,.57,.56,.58,.56,.58,.58,.57,.58,.56,.6,.6,.6,.57,.6,.57,.6,.6,.58,.64,.63,.6,.64,.6,.65]
        var comHardDecr = [0,.40,.33,.18,.165,.18,.235,.215,.22,.24,.24,.22,.245,.225,.225,.225,.22,.21,.235,.23,.225,.22,.21,.21,.215,.22,.22,.22,.205,.21,.20]
        var comHardDecrLo = [0,.12,.03,.05,.08,.09,.09,.09,.1,.1,.1,.11,.12,.1,.09,.1,.12,.1,.1,.12,.1,.09,.1,.09,.09,.1,.1,.1,.1,.1,.1]
        var comHardDecrHi = [0,.58,.6,.36,.3,.32,.35,.38,.35,.35,.35,.33,.38,.33,.36,.34,.33,.33,.34,.33,.34,.33,.33,.3,.32,.33,.34,.33,.3,.3,.3]
        var comHardUnif = [0,.38,.26,.13,.16,.18,.22,.24,.25,.195,.195,.195,.185,.175,.175,.18,.21,.19,.205,.185,.20,.20,.18,.18,.195,.165,.20,.205,.18,.195,.205]
        var comHardUnifLo = [0,.1,.03,.05,.07,.08,.08,.09,.1,.08,.08,.07,.07,.08,.07,.07,.09,.08,.08,.08,.08,.09,.07,.07,.08,.07,.08,.08,.08,.08,.09]
        var comHardUnifHi = [0,.6,.48,.25,.3,.32,.35,.38,.4,.32,.3,.31,.32,.28,.28,.3,.33,.3,.33,.3,.32,.32,.3,.3,.32,.28,.32,.35,.32,.3,.3]

        // series and panels
        const series = [
            { key: 'Def', label: 'Default', color: '55,126,184', dash: [], order: 6, lineX: 63, textX: 136 },
            { key: 'Hprs', label: 'HPRS (ours)', color: '228,26,28', dash: [], order: 1, lineX: 278, textX: 351 },
            { key: 'Bhnr', label: 'BHNR', color: '152,78,163', dash: [9, 4], order: 5, lineX: 554, textX: 626 },
            { key: 'Tltl', label: 'TLTL', color: '77,175,74', dash: [9, 4], order: 4, lineX: 750, textX: 821 },
            { key: 'Decr', label: 'MORL (decr.)', color: '255,127,0', dash: [14, 5, 3, 5], order: 3, lineX: 928, textX: 1000 },
            { key: 'Unif', label: 'MORL (unif.)', color: '166,86,40', dash: [14, 5, 3, 5], order: 2, lineX: 1215, textX: 1287 }
        ]
        const envs = [
            { key: 'Cart', title: 'Cartpole + Obstacle', xs: stepsCart, ticks: xTicksCart, max: 15e5, dec: 1 },
            { key: 'Lunar', title: 'Lunar Lander + Obstacle', xs: stepsLunar, ticks: xTicksLunar, max: 15e5, dec: 1 },
            { key: 'Walk', title: 'Bipedal Walker', xs: stepsWalk, ticks: xTicksWalk, max: 20e5, dec: 2 },
            { key: 'Hard', title: 'Bipedal Walker (Hardcore)', xs: stepsHard, ticks: xTicksHard, max: 30e5, dec: 1 }
        ]
        const rows = [
            { prefix: 'pam', label: 'Policy Assessment Metric', labelY: 248.5, top: 105, bottom: 389, width: 361.2, lefts: [97.6, 531, 963.6, 1396.5], yTicks: yTicksPam, yMax: 2, yDec: 1, safety: 1.5 },
            { prefix: 'saf', label: 'Safety Score', labelY: 686, top: 540.7, bottom: 825, width: 352, lefts: [106.8, 540, 972.7, 1406], yTicks: yTicksScore, yMax: 1, yDec: 2 },
            { prefix: 'tar', label: 'Target Score', labelY: 1127, top: 976, bottom: 1260.3, width: 352, lefts: [106.8, 540, 972.7, 1406], yTicks: yTicksScore, yMax: 1, yDec: 2 },
            { prefix: 'com', label: 'Comfort Score', labelY: 1560, top: 1411.7, bottom: 1695.7, width: 352, lefts: [110.8, 543.6, 976.7, 1409.6], yTicks: yTicksScore, yMax: 1, yDec: 2 },
            { prefix: 'tar', label: 'Success Rate', labelY: 1961, top: 1814.3, bottom: 2099, width: 352, lefts: [110.8, 543.6, 976.7, 1409.6], yTicks: yTicksScore, yMax: 1, yDec: 2, offsetShift: 4 }
        ]
        const titleH = 34
        const bottomH = 50
        const rightPad = 20

        // spines, row label, offset text and the Steps label
        const frameAndText = {
            id: 'frameAndText',
            afterDraw(chart, args, opts) {
                const { ctx, chartArea: { left, right, top, bottom } } = chart
                ctx.save()
                ctx.strokeStyle = '#222'
                ctx.lineWidth = 1.5
                ctx.strokeRect(left, top, right - left, bottom - top)
                ctx.fillStyle = '#000'
                ctx.font = '14px "DejaVu Sans"'
                ctx.textAlign = 'right'
                ctx.textBaseline = 'middle'
                ctx.fillText('1e6', right - (opts.shift || 0), bottom + 34)
                if (opts.steps) {
                    ctx.font = '18.3px "DejaVu Sans"'
                    ctx.textAlign = 'center'
                    ctx.fillText('Steps', right - 80, bottom + 38)
                }
                if (opts.rowLabel) {
                    ctx.translate(11, opts.rowLabelY)
                    ctx.rotate(-Math.PI / 2)
                    ctx.font = '22.4px "DejaVu Sans"'
                    ctx.textAlign = 'center'
                    ctx.fillText(opts.rowLabel, 0, 0)
                }
                ctx.restore()
            }
        }

        function pts(xs, arr) {
            return xs.map((x, i) => ({ x: x, y: arr[i] }))
        }

        function buildDatasets(row, env) {
            const name = row.prefix + env.key
            let sets = []
            series.forEach(s => {
                sets.push({
                    data: pts(env.xs, window[name + s.key + 'Lo']),
                    borderColor: 'rgba(' + s.color + ',0.2)',
                    backgroundColor: 'rgba(' + s.color + ',0.16)',
                    borderWidth: 1.5,
                    pointRadius: 0,
                    fill: '+1',
                    order: 10 + s.order
                })
                sets.push({
                    data: pts(env.xs, window[name + s.key + 'Hi']),
                    borderColor: 'rgba(' + s.color + ',0.2)',
                    borderWidth: 1.5,
                    pointRadius: 0,
                    fill: false,
                    order: 10 + s.order
                })
            })
            series.forEach(s => {
                sets.push({
                    label: s.label,
                    data: pts(env.xs, window[name + s.key]),
                    borderColor: 'rgb(' + s.color + ')',
                    borderDash: s.dash,
                    borderWidth: 2.8,
                    pointRadius: 0,
                    fill: false,
                    order: s.order
                })
            })
            if (row.safety) {
                sets.push({
                    label: 'Safety+Target',
                    data: [{ x: 0, y: row.safety }, { x: env.max, y: row.safety }],
                    borderColor: '#000',
                    borderDash: [8, 3],
                    borderWidth: 2.5,
                    pointRadius: 0,
                    fill: false,
                    order: 0
                })
            }
            return sets
        }

        rows.forEach((row, r) => {
            envs.forEach((env, c) => {
                const panelLeft = row.lefts[c]
                const yAxisW = c == 0 ? panelLeft : 60
                const h = row.bottom - row.top
                const canvas = document.createElement('canvas')
                canvas.width = Math.round(yAxisW + row.width + rightPad)
                canvas.height = Math.round(titleH + h + bottomH)
                canvas.style.left = (panelLeft - yAxisW) + 'px'
                canvas.style.top = (row.top - titleH) + 'px'
                document.body.appendChild(canvas)

                new Chart(canvas, {
                    type: 'line',
                    data: { datasets: buildDatasets(row, env) },
                    options: {
                        responsive: false,
                        animation: false,
                        layout: { padding: { right: rightPad } },
                        plugins: {
                            legend: { display: false },
                            tooltip: { enabled: false },
                            filler: { drawTime: 'beforeDatasetsDraw' },
                            title: {
                                display: true,
                                text: env.title,
                                fullSize: false,
                                color: '#000',
                                font: { size: 22.6, weight: 'normal', family: '"DejaVu Sans"' },
                                padding: { top: 6.5, bottom: 0.4 }
                            },
                            frameAndText: {
                                steps: c == 3,
                                shift: row.offsetShift || 0,
                                rowLabel: c == 0 ? row.label : null,
                                rowLabelY: row.labelY - (row.top - titleH)
                            }
                        },
                        scales: {
                            x: {
                                type: 'linear',
                                min: 0,
                                max: env.max,
                                afterFit: axis => { axis.height = bottomH },
                                afterBuildTicks: axis => { axis.ticks = env.ticks.map(v => ({ value: v })) },
                                grid: { drawOnChartArea: false, tickLength: 5, tickColor: '#222', tickWidth: 1.3 },
                                border: { color: '#222', width: 1.5 },
                                ticks: {
                                    color: '#000',
                                    padding: 4,
                                    autoSkip: false,
                                    maxRotation: 0,
                                    font: { size: 14.3, family: '"DejaVu Sans"' },
                                    callback: v => (v / 1e6).toFixed(env.dec)
                                }
                            },
                            y: {
                                min: 0,
                                max: row.yMax,
                                afterFit: axis => { axis.width = yAxisW },
                                afterBuildTicks: axis => { axis.ticks = row.yTicks.map(v => ({ value: v })) },
                                grid: { drawOnChartArea: false, tickLength: 5, tickColor: '#222', tickWidth: 1.3 },
                                border: { color: '#222', width: 1.5 },
                                ticks: {
                                    color: '#000',
                                    padding: 4,
                                    font: { size: 14.3, family: '"DejaVu Sans"' },
                                    callback: v => v.toFixed(row.yDec)
                                }
                            }
                        }
                    },
                    plugins: [frameAndText]
                })
            })
        })

        // legend strip
        const legendItems = series.concat([{ label: 'Safety+Target', color: '0,0,0', dash: [8, 3], lineX: 1493, textX: 1565 }])
        legendItems.forEach(s => {
            const svg = document.createElementNS('http://www.w3.org/2000/svg', 'svg')
            svg.setAttribute('width', 54)
            svg.setAttribute('height', 6)
            svg.style.left = s.lineX + 'px'
            const line = document.createElementNS('http://www.w3.org/2000/svg', 'line')
            line.setAttribute('x1', 0)
            line.setAttribute('y1', 3)
            line.setAttribute('x2', 54)
            line.setAttribute('y2', 3)
            line.setAttribute('stroke', 'rgb(' + s.color + ')')
            line.setAttribute('stroke-width', 3.5)
            if (s.dash.length) line.setAttribute('stroke-dasharray', s.dash.join(' '))
            svg.appendChild(line)
            document.body.appendChild(svg)

            const text = document.createElement('div')
            text.className = 'legendText'
            text.style.left = s.textX + 'px'
            text.textContent = s.label
            document.body.appendChild(text)
        })
    </script>
</body>

</html>
